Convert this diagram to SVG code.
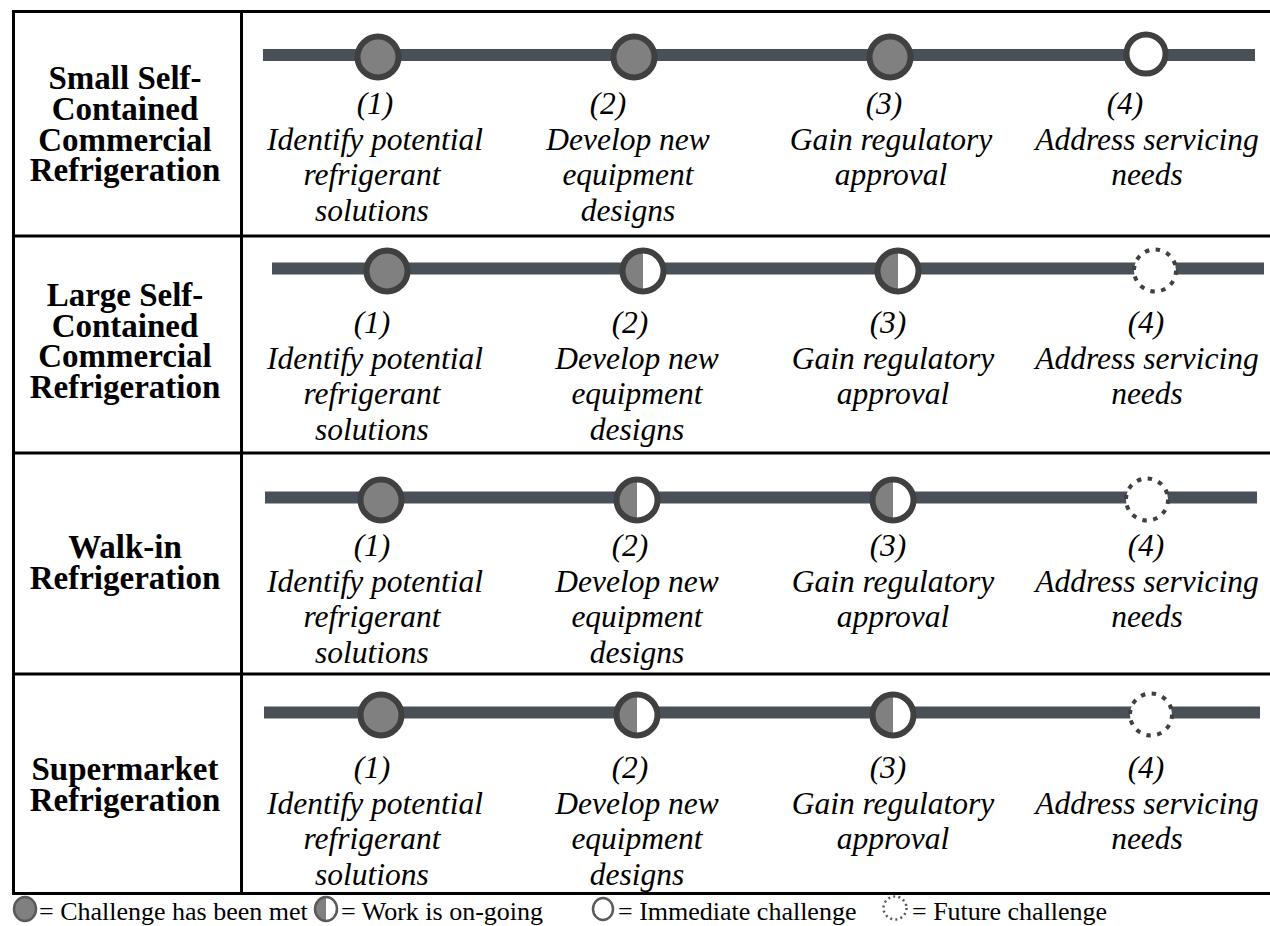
<svg xmlns="http://www.w3.org/2000/svg" xmlns:xlink="http://www.w3.org/1999/xlink" width="1270" height="926" viewBox="0 0 1270 926">
  <style>
    .label { font-family: "Liberation Serif", "Times New Roman", serif; font-weight: bold; font-size: 33px; text-anchor: middle; fill: #000; }
    .step { font-family: "Liberation Serif", "Times New Roman", serif; font-style: italic; font-size: 31.5px; text-anchor: middle; fill: #000; }
    .legend { font-family: "Liberation Serif", "Times New Roman", serif; font-size: 26px; fill: #000; }
    .track { stroke: #495057; stroke-width: 12; fill: none; }
    .grid { stroke: #000; stroke-width: 3; fill: none; }
  </style>
  <defs>
    <!-- milestone markers, drawn at the origin -->
    <g id="met">
      <circle r="20.5" fill="#808080" stroke="#404040" stroke-width="6"/>
    </g>
    <g id="ongoing">
      <circle r="20.5" fill="#fff"/>
      <path d="M0,-20.5 A20.5,20.5 0 0 0 0,20.5 Z" fill="#808080"/>
      <circle r="20.5" fill="none" stroke="#404040" stroke-width="6"/>
    </g>
    <g id="immediate">
      <circle r="19.5" fill="#fff" stroke="#404040" stroke-width="6"/>
    </g>
    <g id="future">
      <circle r="21" fill="#fff" stroke="#404040" stroke-width="4" stroke-dasharray="4.5 6.5"/>
    </g>
    <!-- small legend versions -->
    <g id="lg-met"><ellipse rx="11" ry="12" fill="#808080" stroke="#5a5a5a" stroke-width="2.5"/></g>
    <g id="lg-ongoing">
      <ellipse rx="11" ry="12" fill="#fff"/>
      <path d="M0,-12 A11,12 0 0 0 0,12 Z" fill="#808080"/>
      <ellipse rx="11" ry="12" fill="none" stroke="#5a5a5a" stroke-width="2.5"/>
    </g>
    <g id="lg-immediate"><ellipse rx="10" ry="11" fill="#fff" stroke="#5a5a5a" stroke-width="2.5"/></g>
    <g id="lg-future"><circle r="11.5" fill="#fff" stroke="#5a5a5a" stroke-width="2.5" stroke-dasharray="2 3.2"/></g>
  </defs>

  <rect width="1270" height="926" fill="#fff"/>

  <!-- table grid -->
  <g id="grid" class="grid">
    <line x1="12" y1="11.5" x2="1270" y2="11.5"/>
    <line x1="12" y1="236" x2="1270" y2="236"/>
    <line x1="12" y1="453" x2="1270" y2="453"/>
    <line x1="12" y1="674" x2="1270" y2="674"/>
    <line x1="12" y1="893.5" x2="1270" y2="893.5"/>
    <line x1="13.5" y1="10" x2="13.5" y2="895"/>
    <line x1="241.5" y1="10" x2="241.5" y2="895"/>
  </g>

  <!-- row headings -->
  <g id="row1-label">
    <text class="label" x="125" y="89">Small Self-</text>
    <text class="label" x="125" y="120">Contained</text>
    <text class="label" x="125" y="150.5">Commercial</text>
    <text class="label" x="125" y="181">Refrigeration</text>
  </g>
  <g id="row2-label">
    <text class="label" x="125" y="306">Large Self-</text>
    <text class="label" x="125" y="336.5">Contained</text>
    <text class="label" x="125" y="367">Commercial</text>
    <text class="label" x="125" y="397.5">Refrigeration</text>
  </g>
  <g id="row3-label">
    <text class="label" x="125" y="558">Walk-in</text>
    <text class="label" x="125" y="589">Refrigeration</text>
  </g>
  <g id="row4-label">
    <text class="label" x="125" y="780">Supermarket</text>
    <text class="label" x="125" y="811">Refrigeration</text>
  </g>

  <!-- connectors: the timeline tracks -->
  <g id="connectors" class="track">
    <line x1="263" y1="55" x2="1255" y2="55"/>
    <line x1="272" y1="268.5" x2="1264" y2="268.5"/>
    <line x1="265" y1="497.5" x2="1257" y2="497.5"/>
    <line x1="264" y1="712.5" x2="1260" y2="712.5"/>
  </g>

  <!-- row 1 milestones -->
  <g id="r1-s1">
    <use xlink:href="#met" x="378" y="57"/>
    <text class="step" x="375" y="114">(1)</text>
    <text class="step" x="375" y="149.7">Identify potential</text>
    <text class="step" x="372" y="185.4">refrigerant</text>
    <text class="step" x="372" y="221">solutions</text>
  </g>
  <g id="r1-s2">
    <use xlink:href="#met" x="634" y="57"/>
    <text class="step" x="608" y="114">(2)</text>
    <text class="step" x="628" y="149.7">Develop new</text>
    <text class="step" x="628" y="185.4">equipment</text>
    <text class="step" x="628" y="221">designs</text>
  </g>
  <g id="r1-s3">
    <use xlink:href="#met" x="890" y="57"/>
    <text class="step" x="884" y="114">(3)</text>
    <text class="step" x="891" y="149.7">Gain regulatory</text>
    <text class="step" x="891" y="185.4">approval</text>
  </g>
  <g id="r1-s4">
    <use xlink:href="#immediate" x="1146" y="54"/>
    <text class="step" x="1125" y="114">(4)</text>
    <text class="step" x="1147" y="149.7">Address servicing</text>
    <text class="step" x="1147" y="185.4">needs</text>
  </g>

  <!-- row 2 milestones -->
  <g id="r2-s1">
    <use xlink:href="#met" x="387" y="271"/>
    <text class="step" x="372" y="333">(1)</text>
    <text class="step" x="375" y="368.7">Identify potential</text>
    <text class="step" x="372" y="404.4">refrigerant</text>
    <text class="step" x="372" y="440">solutions</text>
  </g>
  <g id="r2-s2">
    <use xlink:href="#ongoing" x="643" y="271"/>
    <text class="step" x="630" y="333">(2)</text>
    <text class="step" x="637" y="368.7">Develop new</text>
    <text class="step" x="637" y="404.4">equipment</text>
    <text class="step" x="637" y="440">designs</text>
  </g>
  <g id="r2-s3">
    <use xlink:href="#ongoing" x="898" y="271"/>
    <text class="step" x="888" y="333">(3)</text>
    <text class="step" x="893" y="368.7">Gain regulatory</text>
    <text class="step" x="893" y="404.4">approval</text>
  </g>
  <g id="r2-s4">
    <use xlink:href="#future" x="1155" y="270.5"/>
    <text class="step" x="1146" y="333">(4)</text>
    <text class="step" x="1147" y="368.7">Address servicing</text>
    <text class="step" x="1147" y="404.4">needs</text>
  </g>

  <!-- row 3 milestones -->
  <g id="r3-s1">
    <use xlink:href="#met" x="381" y="500"/>
    <text class="step" x="372" y="556">(1)</text>
    <text class="step" x="375" y="591.7">Identify potential</text>
    <text class="step" x="372" y="627.4">refrigerant</text>
    <text class="step" x="372" y="663">solutions</text>
  </g>
  <g id="r3-s2">
    <use xlink:href="#ongoing" x="637" y="500"/>
    <text class="step" x="630" y="556">(2)</text>
    <text class="step" x="637" y="591.7">Develop new</text>
    <text class="step" x="637" y="627.4">equipment</text>
    <text class="step" x="637" y="663">designs</text>
  </g>
  <g id="r3-s3">
    <use xlink:href="#ongoing" x="893" y="500"/>
    <text class="step" x="888" y="556">(3)</text>
    <text class="step" x="893" y="591.7">Gain regulatory</text>
    <text class="step" x="893" y="627.4">approval</text>
  </g>
  <g id="r3-s4">
    <use xlink:href="#future" x="1147" y="499.5"/>
    <text class="step" x="1146" y="556">(4)</text>
    <text class="step" x="1147" y="591.7">Address servicing</text>
    <text class="step" x="1147" y="627.4">needs</text>
  </g>

  <!-- row 4 milestones -->
  <g id="r4-s1">
    <use xlink:href="#met" x="381" y="715"/>
    <text class="step" x="372" y="778">(1)</text>
    <text class="step" x="375" y="813.7">Identify potential</text>
    <text class="step" x="372" y="849.4">refrigerant</text>
    <text class="step" x="372" y="885">solutions</text>
  </g>
  <g id="r4-s2">
    <use xlink:href="#ongoing" x="637" y="715"/>
    <text class="step" x="630" y="778">(2)</text>
    <text class="step" x="637" y="813.7">Develop new</text>
    <text class="step" x="637" y="849.4">equipment</text>
    <text class="step" x="637" y="885">designs</text>
  </g>
  <g id="r4-s3">
    <use xlink:href="#ongoing" x="893" y="715"/>
    <text class="step" x="888" y="778">(3)</text>
    <text class="step" x="893" y="813.7">Gain regulatory</text>
    <text class="step" x="893" y="849.4">approval</text>
  </g>
  <g id="r4-s4">
    <use xlink:href="#future" x="1151" y="714.5"/>
    <text class="step" x="1146" y="778">(4)</text>
    <text class="step" x="1147" y="813.7">Address servicing</text>
    <text class="step" x="1147" y="849.4">needs</text>
  </g>

  <!-- key -->
  <g id="legend">
    <use xlink:href="#lg-met" x="25" y="909"/>
    <text class="legend" x="39" y="920">= Challenge has been met</text>
    <use xlink:href="#lg-ongoing" x="326" y="909"/>
    <text class="legend" x="341" y="920">= Work is on-going</text>
    <use xlink:href="#lg-immediate" x="603" y="909"/>
    <text class="legend" x="618" y="920">= Immediate challenge</text>
    <use xlink:href="#lg-future" x="895" y="908"/>
    <text class="legend" x="912" y="920">= Future challenge</text>
  </g>
</svg>
